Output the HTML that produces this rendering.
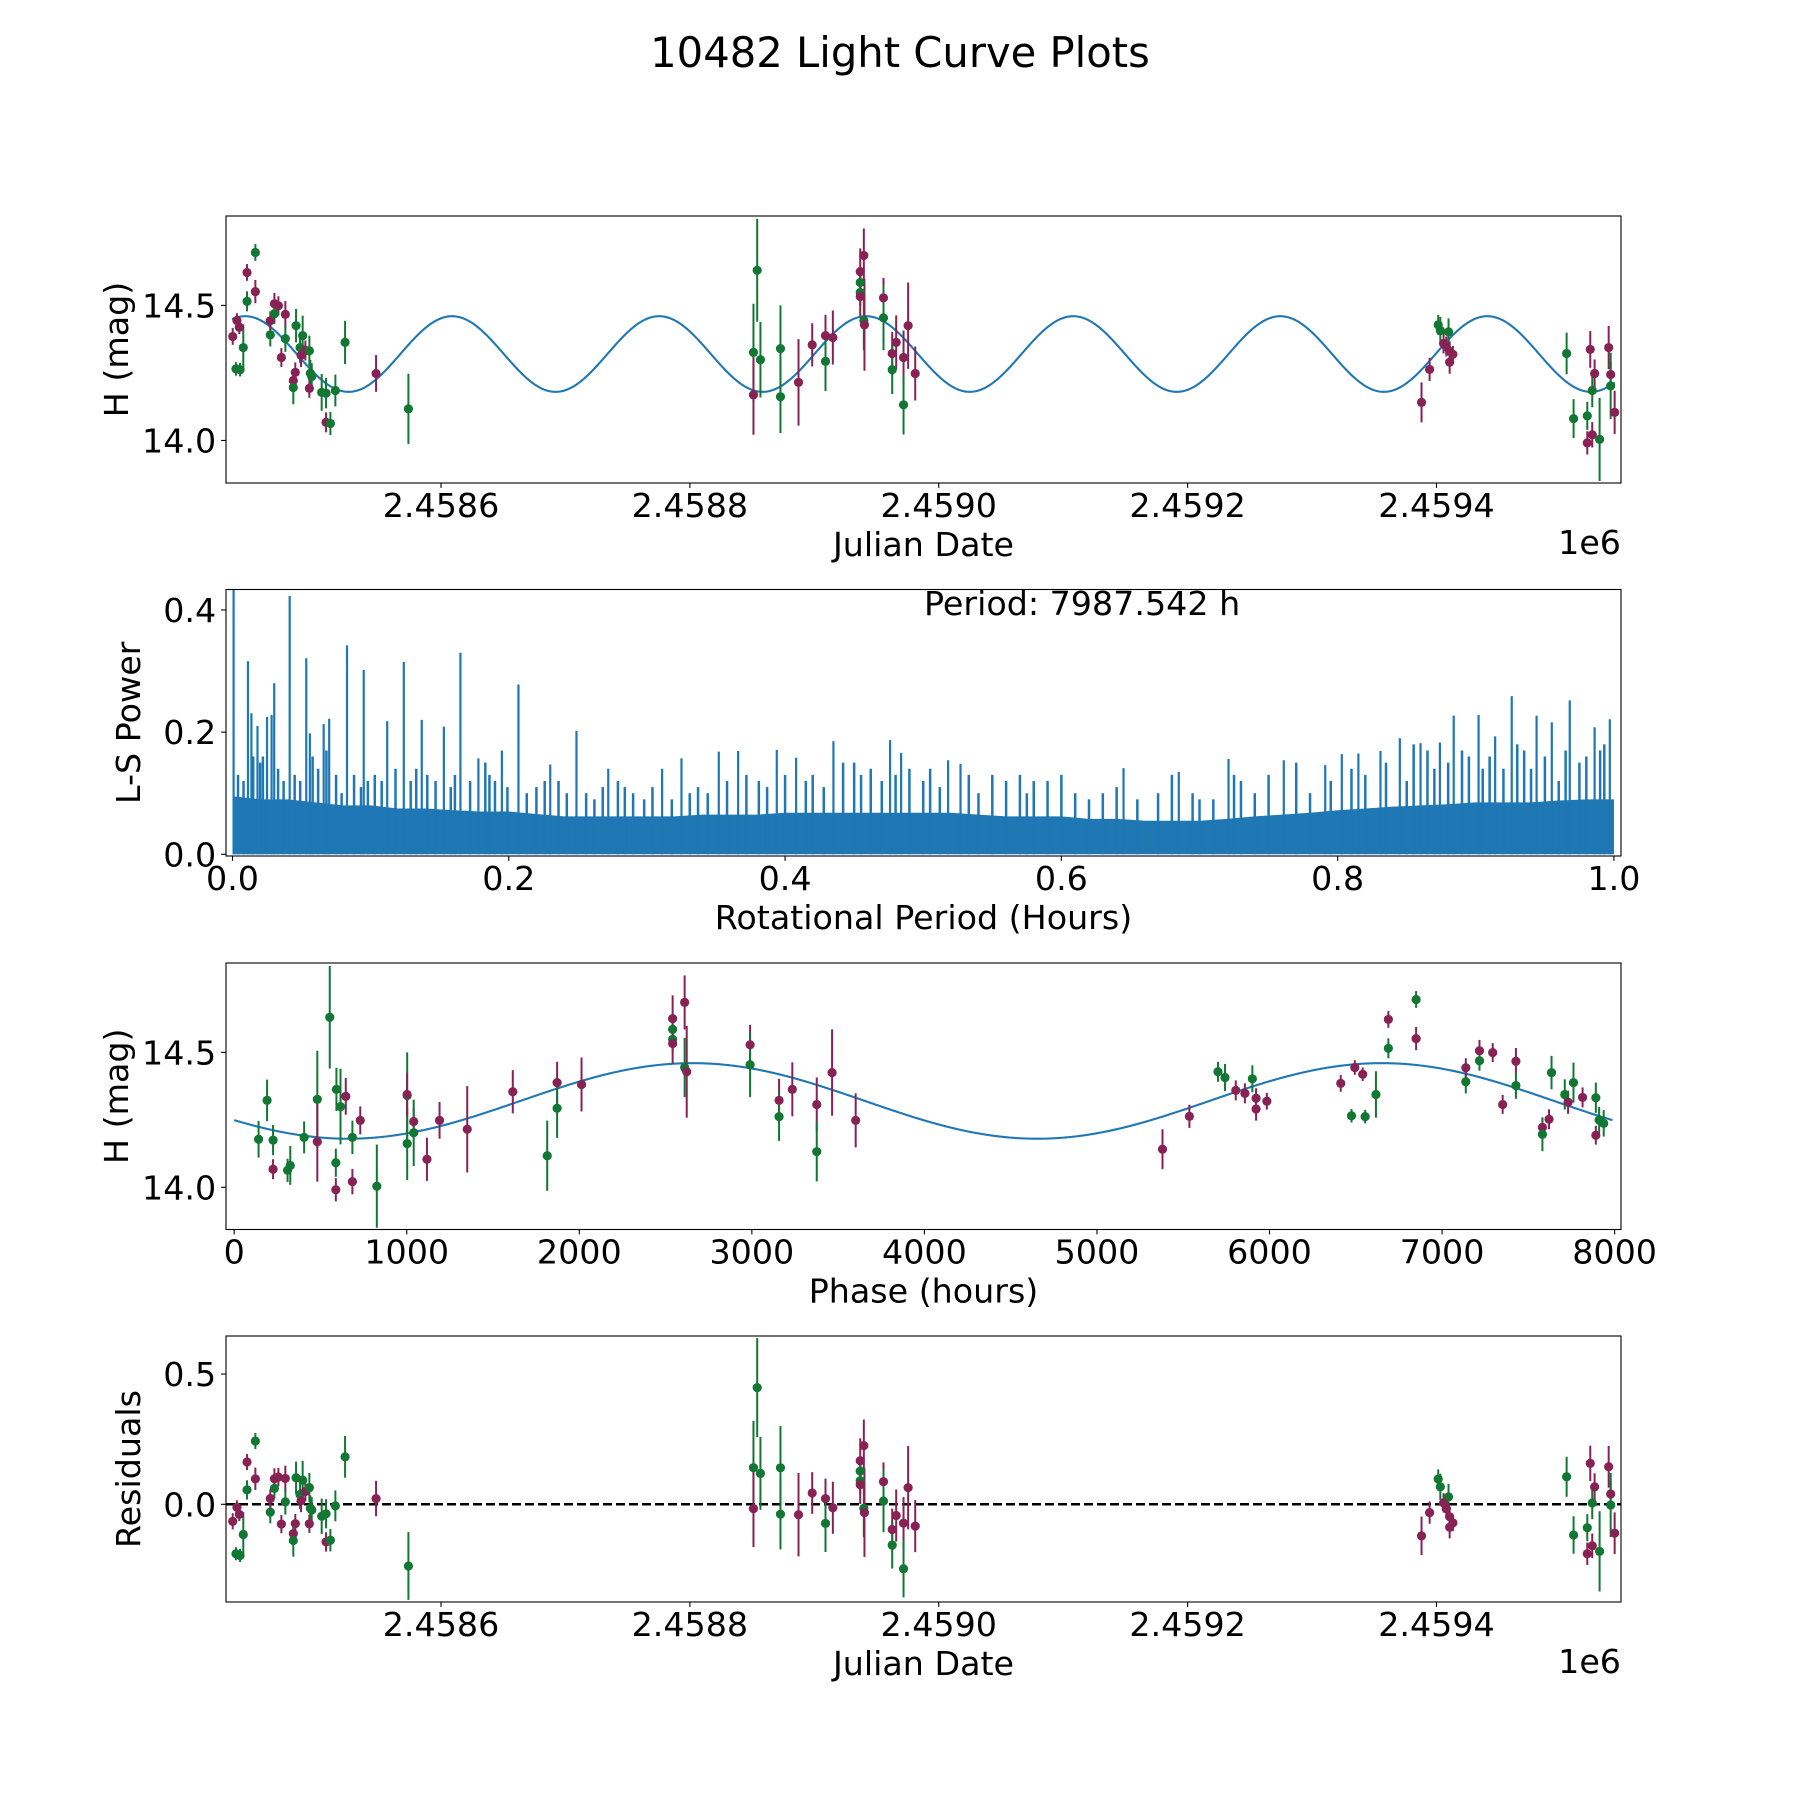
<!DOCTYPE html>
<html><head><meta charset="utf-8"><style>
html,body{margin:0;padding:0;background:#fff;}
svg text{font-family:"DejaVu Sans","Liberation Sans",sans-serif;fill:#000;}
</style></head><body>
<svg id="fig" width="1800" height="1800" viewBox="0 0 1800 1800" xmlns="http://www.w3.org/2000/svg">
<rect width="1800" height="1800" fill="#fff"/>
<text x="900" y="67" font-size="41.7" text-anchor="middle">10482 Light Curve Plots</text>
</svg>
<script>
// ---- light curve data (JD - 2458000) ----
const jd = [432.6,436.0,437.9,435.2,438.5,441.1,444.1,444.1,450.8,450.8,462.8,462.8,466.1,469.3,466.1,474.9,474.9,471.7,483.5,488.8,482.9,481.3,481.3,486.7,487.5,491.0,494.2,495.0,496.1,494.2,504.1,507.6,515.1,507.6,511.1,522.9,547.8,573.8,
851.1,851.1,854.1,856.7,872.8,872.8,887.3,898.3,909.0,909.0,914.9,936.9,939.8,936.9,936.9,936.9,939.8,940.3,955.6,955.6,962.6,965.8,962.6,971.7,971.7,975.4,981.1,
1388.0,1394.5,1401.4,1403.1,1409.7,1405.7,1407.9,1410.6,1413.2,1410.6,1504.6,1510.2,1523.6,1521.2,1521.2,1525.2,1527.1,1525.2,1531.1,1538.4,1540.0,1540.0,1543.2];
const mag = [14.385,14.444,14.419,14.265,14.262,14.344,14.515,14.622,14.696,14.551,14.391,14.443,14.506,14.499,14.469,14.467,14.377,14.307,14.425,14.388,14.252,14.222,14.196,14.344,14.315,14.333,14.332,14.249,14.237,14.193,14.178,14.175,14.185,14.067,14.063,14.363,14.248,14.117,
14.326,14.169,14.630,14.299,14.340,14.162,14.215,14.354,14.388,14.293,14.381,14.625,14.685,14.585,14.548,14.533,14.444,14.428,14.528,14.454,14.322,14.363,14.262,14.307,14.132,14.425,14.248,
14.141,14.263,14.428,14.407,14.402,14.359,14.348,14.330,14.319,14.290,14.322,14.081,14.337,14.091,13.991,14.021,14.248,14.185,14.004,14.344,14.244,14.202,14.104];
const err = [.031,.027,.025,.025,.025,.086,.037,.031,.031,.043,.043,.035,.04,.035,.037,.049,.049,.035,.062,.074,.037,.037,.062,.056,.043,.037,.056,.049,.049,.035,.068,.056,.059,.037,.043,.08,.068,.13,
.18,.148,.19,.14,.16,.135,.16,.08,.077,.11,.1,.086,.1,.05,.05,.074,.11,.17,.074,.12,.08,.1,.09,.1,.11,.16,.1,
.074,.043,.037,.05,.05,.037,.037,.037,.031,.043,.077,.072,.068,.052,.043,.047,.052,.062,.154,.08,.05,.123,.08];
const band = ['m','m','m','g','g','g','g','m','g','m','g','m','m','m','g','m','g','m','g','g','m','m','g','g','m','m','g','g','g','m','g','g','g','m','g','g','m','g',
'g','m','g','g','g','g','m','m','m','g','m','m','m','g','g','m','g','m','m','g','m','m','g','m','g','m','m',
'm','m','g','g','g','m','m','m','m','m','g','g','m','g','m','m','m','g','g','m','m','g','m'];
// model parameters
const modelMean = 14.32, modelAmp = 0.14, modelPeakJD = 442.5, modelPeriodDays = 166.4;
const foldPeriodH = 7987.542, foldRefJD = 165.4;
// ---- periodogram data ----
const bandPeriods = [0,.02,.04,.06,.08,.10,.12,.14,.16,.18,.20,.22,.24,.26,.28,.30,.32,.34,.36,.38,.40,.42,.44,.46,.48,.50,.52,.54,.56,.58,.60,.62,.64,.66,.68,.70,.72,.74,.76,.78,.80,.82,.84,.86,.88,.90,.92,.94,.96,.98,1.0];
const bandTop = [.095,.09,.09,.085,.08,.08,.075,.075,.072,.07,.07,.066,.062,.062,.062,.062,.062,.065,.065,.065,.068,.068,.068,.068,.068,.068,.068,.065,.062,.062,.062,.058,.058,.055,.055,.055,.058,.062,.065,.068,.072,.075,.078,.08,.082,.085,.085,.085,.088,.09,.09];
const spikePeriods = [0.0008,.0112,.0137,.0181,.025,.0283,.0302,.0414,.0534,.056,.066,.07,.0829,.095,.112,.124,.137,.153,.165,.178,.195,.207,.23,.249,.272,.311,.325,.352,.366,.394,.408,.435,.476,.484,.518,.527,.645,.685,.721,.761,.791,.803,.815,.831,.845,.86,.874,.884,.902,.914,.926,.944,.955,.968,.986,.997];
const spikePowers = [.434,.316,.231,.21,.225,.228,.28,.423,.321,.198,.213,.222,.342,.302,.218,.315,.22,.209,.33,.157,.17,.278,.147,.202,.14,.14,.157,.168,.169,.171,.158,.185,.187,.166,.154,.148,.141,.135,.156,.154,.146,.164,.165,.169,.19,.182,.183,.227,.228,.193,.259,.227,.216,.252,.208,.221];
const minorPeriods = [.004,.008,.015,.02,.022,.033,.037,.045,.049,.058,.062,.068,.075,.079,.088,.093,.098,.103,.108,.118,.129,.133,.141,.147,.158,.161,.172,.183,.186,.19,.199,.213,.22,.226,.236,.242,.256,.262,.268,.279,.284,.29,.298,.304,.318,.331,.337,.344,.358,.372,.381,.387,.40,.415,.42,.428,.442,.45,.455,.462,.47,.48,
.49,.50,.505,.512,.533,.54,.55,.56,.57,.575,.58,.59,.60,.61,.62,.63,.64,.655,.67,.68,.695,.70,.71,.725,.73,.74,.75,.77,.78,.795,.81,.82,.835,.85,.855,.865,.87,.88,.89,.895,.905,.91,.92,.93,.935,.94,.95,.96,.965,.975,.98,.99,.993];
const minorPowers = [.13,.12,.16,.15,.16,.14,.12,.13,.12,.16,.14,.17,.13,.10,.13,.11,.12,.13,.12,.14,.12,.14,.13,.12,.11,.13,.12,.15,.13,.12,.11,.10,.11,.12,.12,.10,.10,.09,.11,.12,.11,.10,.09,.11,.09,.10,.11,.10,.12,.13,.12,.11,.13,.12,.13,.11,.15,.15,.13,.14,.12,.13,
.14,.12,.14,.11,.13,.10,.13,.12,.13,.10,.12,.12,.13,.10,.09,.10,.11,.09,.10,.13,.10,.09,.09,.13,.12,.10,.13,.15,.10,.12,.14,.13,.15,.12,.18,.17,.14,.15,.17,.16,.14,.16,.14,.18,.17,.14,.16,.12,.17,.15,.16,.17,.18];
const periodLabel = "Period: 7987.542 h";
// tick arrays
const jdTicks = [600,800,1000,1200,1400];
const jdTickLabels = ["2.4586","2.4588","2.4590","2.4592","2.4594"];
const magTicks = [14.0,14.5], magTickLabels = ["14.0","14.5"];
const lsYTicks = [0,0.2,0.4], lsYTickLabels = ["0.0","0.2","0.4"];
const lsXTicks = [0,0.2,0.4,0.6,0.8,1.0], lsXTickLabels = ["0.0","0.2","0.4","0.6","0.8","1.0"];
const phTicks = [0,1000,2000,3000,4000,5000,6000,7000,8000];
const phTickLabels = ["0","1000","2000","3000","4000","5000","6000","7000","8000"];
const resTicks = [0,0.5], resTickLabels = ["0.0","0.5"];

const NS='http://www.w3.org/2000/svg';
const svg=document.getElementById('fig');
const COL={m:'#882255',g:'#117733'};
function el(tag,attrs,parent){const e=document.createElementNS(NS,tag);for(const k in attrs)e.setAttribute(k,attrs[k]);(parent||svg).appendChild(e);return e;}
function model(t){return modelMean+modelAmp*Math.cos(2*Math.PI*(t-modelPeakJD)/modelPeriodDays);}
function phaseOf(t){let h=(t-foldRefJD)*24;return ((h%foldPeriodH)+foldPeriodH)%foldPeriodH;}

const L=226,R=1621;
function makeAxes(name,top,bot,xmin,xmax,ymin,ymax){
  const ax={name,top,bot,sx:v=>L+(v-xmin)/(xmax-xmin)*(R-L),sy:v=>bot-(v-ymin)/(ymax-ymin)*(bot-top)};
  const cp=el('clipPath',{id:'clip-'+name});
  el('rect',{x:L,y:top,width:R-L,height:bot-top},cp);
  ax.g=el('g',{'clip-path':'url(#clip-'+name+')'});
  
  
  return ax;
}
function frame(ax,xt,xl,yt,yl,xlabel,ylabel,ylabelX,offsetText){
  const f=el('rect',{x:L,y:ax.top,width:R-L,height:ax.bot-ax.top,fill:'none',stroke:'#000','stroke-width':1.1});
  
  
  xt.forEach((v,i)=>{const x=ax.sx(v);
    el('line',{x1:x,x2:x,y1:ax.bot,y2:ax.bot+4.9,stroke:'#000','stroke-width':1.1});
    const t=el('text',{x:x,y:ax.bot+34,'font-size':33.3,'text-anchor':'middle'});t.textContent=xl[i];
    
    });
  yt.forEach((v,i)=>{const y=ax.sy(v);
    el('line',{x1:L,x2:L-4.9,y1:y,y2:y,stroke:'#000','stroke-width':1.1});
    const t=el('text',{x:L-9.8,y:y+12,'font-size':33.3,'text-anchor':'end'});t.textContent=yl[i];
    
    });
  const xlb=el('text',{x:(L+R)/2,y:ax.bot+73,'font-size':33.3,'text-anchor':'middle'});xlb.textContent=xlabel;
  
  
  const cy=(ax.top+ax.bot)/2;
  const ylb=el('text',{x:ylabelX,y:cy,'font-size':33.3,'text-anchor':'middle',transform:'rotate(-90 '+ylabelX+' '+cy+')'});ylb.textContent=ylabel;
  
  
  if(offsetText){const o=el('text',{x:R,y:ax.bot+71,'font-size':33.3,'text-anchor':'end'});o.textContent=offsetText;
    
    }
}
function points(ax,xs,ys,es){
  for(let i=0;i<xs.length;i++){
    const x=ax.sx(xs[i]);
    const ln=el('line',{x1:x,x2:x,y1:ax.sy(ys[i]-es[i]),y2:ax.sy(ys[i]+es[i]),stroke:COL[band[i]],'stroke-width':2},ax.g);
    
    
  }
  for(let i=0;i<xs.length;i++){
    const c=el('circle',{cx:ax.sx(xs[i]),cy:ax.sy(ys[i]),r:4.6,fill:COL[band[i]]},ax.g);
    
    
  }
}
function curve(ax,fx,fy,n,a,b){
  let d='';for(let k=0;k<=n;k++){const u=a+(b-a)*k/n;d+=(k?'L':'M')+ax.sx(fx(u)).toFixed(2)+','+ax.sy(fy(u)).toFixed(2);}
  const p=el('path',{d:d,fill:'none',stroke:'#1f77b4','stroke-width':2.1},ax.g);
  
  
}

// Panel 1
const a1=makeAxes('lightcurve',216,483,427.2,1548.3,13.8425,14.831);
curve(a1,u=>u,u=>model(u),1500,432,1543.2);
points(a1,jd,mag,err);
frame(a1,jdTicks,jdTickLabels,magTicks,magTickLabels,'Julian Date','H (mag)',128,'1e6');

// Panel 2 periodogram
const a2=makeAxes('periodogram',589.5,856,-0.0047,1.0051,-0.0028,0.4335);
let d='M'+a2.sx(bandPeriods[0])+','+a2.sy(0);
bandPeriods.forEach((p,i)=>{d+='L'+a2.sx(p).toFixed(2)+','+a2.sy(bandTop[i]).toFixed(2);});
d+='L'+a2.sx(bandPeriods[bandPeriods.length-1])+','+a2.sy(0)+'Z';
const bp=el('path',{d:d,fill:'#1f77b4'},a2.g);


minorPeriods.forEach((p,i)=>{const x=a2.sx(p);
  const s=el('line',{x1:x,x2:x,y1:a2.sy(0),y2:a2.sy(minorPowers[i]),stroke:'#1f77b4','stroke-width':2.5},a2.g);
  
  });
spikePeriods.forEach((p,i)=>{const x=a2.sx(p);
  const s=el('line',{x1:x,x2:x,y1:a2.sy(0),y2:a2.sy(spikePowers[i]),stroke:'#1f77b4','stroke-width':2.2},a2.g);
  
  });
const pt=el('text',{x:924,y:615,'font-size':33.3});pt.textContent=periodLabel;


frame(a2,lsXTicks,lsXTickLabels,lsYTicks,lsYTickLabels,'Rotational Period (Hours)','L-S Power',140,null);

// Panel 3 phase folded
const a3=makeAxes('phase',963,1229.5,-47.5,8037,13.8437,14.831);
const phases=jd.map(phaseOf);
curve(a3,u=>u,u=>model(foldRefJD+u/24),1200,0,foldPeriodH);
points(a3,phases,mag,err);
frame(a3,phTicks,phTickLabels,magTicks,magTickLabels,'Phase (hours)','H (mag)',128,null);

// Panel 4 residuals
const a4=makeAxes('residuals',1336,1602,427.2,1548.3,-0.375,0.646);
const zl=el('line',{x1:L,x2:R,y1:a4.sy(0),y2:a4.sy(0),stroke:'#000','stroke-width':2.5,'stroke-dasharray':'9 4'},a4.g);


const resid=jd.map((t,i)=>mag[i]-model(t));
points(a4,jd,resid,err);
frame(a4,jdTicks,jdTickLabels,resTicks,resTickLabels,'Julian Date','Residuals',140,'1e6');
</script>
</body></html>
